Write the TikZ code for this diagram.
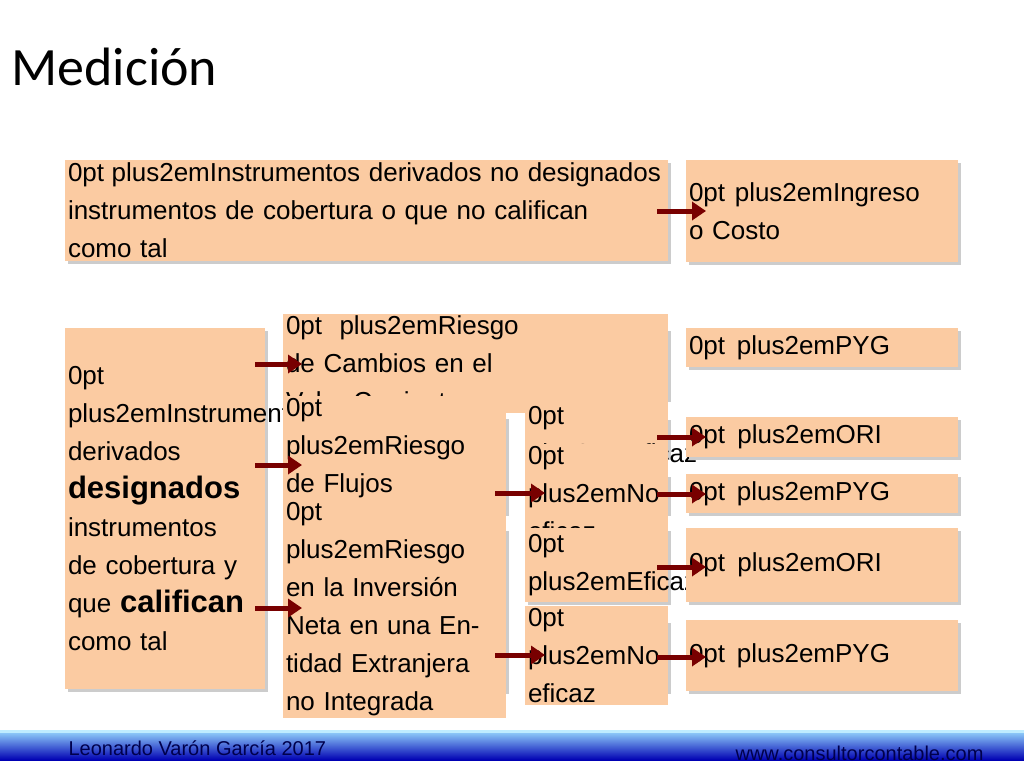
\documentclass[tikz,border=0pt]{standalone}
\usepackage{fontspec}
\setmainfont{Liberation Sans}
\newfontfamily\titlefont{Carlito}
\usetikzlibrary{arrows.meta}
\definecolor{peach}{RGB}{251,203,162}
\definecolor{arr}{RGB}{120,0,0}
\tikzset{
 bx/.style={fill=peach,draw=none,inner sep=2pt,align=center,font=\fontsize{26}{38}\selectfont\hyphenpenalty=10000\relax\exhyphenpenalty=10000\relax},
 ar/.style={draw=arr,line width=5pt,-{Triangle[length=14pt,width=18pt]}},
}
\begin{document}
\begin{tikzpicture}[x=1pt,y=-1pt]
\useasboundingbox (0,0) rectangle (1024,768);
\fill[white] (0,0) rectangle (1024,768);
\node[anchor=west,font=\titlefont\fontsize{54}{60}\selectfont] (title) at (8,67) {Medición};
\newcommand\bxat[6]{\fill[black!20] (#2+3,#3+3) rectangle (#4+3,#5+3);
 \node[bx,minimum width=#4-#2,minimum height=#5-#3,text width=#4-#2-6] (#1) at ({(#2+#4)/2},{(#3+#5)/2}) {#6};}
\bxat{a}{65}{160}{668}{261}{Instrumentos derivados no designados\\instrumentos de cobertura o que no califican\\como tal}
\bxat{b}{686}{160}{958}{262}{Ingreso o Costo}
\bxat{l}{65}{328}{265}{689}{Instrumentos derivados\\{\fontsize{31}{38}\selectfont\bfseries designados}\\instrumentos de cobertura y que {\fontsize{31}{38}\selectfont\bfseries califican}\\como tal}
\bxat{c}{283}{328}{668}{399}{Riesgo de Cambios en el\\Valor Corriente}
\bxat{p1}{686}{328}{958}{367}{PYG}
\bxat{f}{283}{416}{506}{513}{Riesgo de Flujos\\de Efectivo}
\bxat{e1}{525}{417}{668}{457}{Eficaz}
\bxat{o1}{686}{417}{958}{457}{ORI}
\bxat{n1}{525}{474}{668}{513}{No eficaz}
\bxat{p2}{686}{474}{958}{513}{PYG}
\bxat{i}{283}{528}{506}{691}{Riesgo en la Inversión Neta en una Entidad Extranjera no Integrada}
\bxat{e2}{525}{528}{668}{602}{Eficaz}
\bxat{o2}{686}{528}{958}{602}{ORI}
\bxat{n2}{525}{620}{668}{691}{No eficaz}
\bxat{p3}{686}{620}{958}{691}{PYG}
\draw[ar] (657,211) -- (706,211);
\draw[ar] (255,364) -- (302,364);
\draw[ar] (255,465) -- (302,465);
\draw[ar] (255,608) -- (302,608);
\draw[ar] (495,493) -- (545,493);
\draw[ar] (495,655) -- (545,655);
\draw[ar] (657,437) -- (706,437);
\draw[ar] (657,494) -- (706,494);
\draw[ar] (657,567) -- (706,567);
\draw[ar] (657,657) -- (706,657);
\shade[top color=blue!35!cyan!40, bottom color=blue!70!black] (0,730) rectangle (1024,760);
\fill[blue!30!cyan!25] (0,730) rectangle (1024,733);
\node[anchor=west,text=blue!30!black,font=\fontsize{20}{24}\selectfont] (auth) at (65,748) {Leonardo Varón García 2017};
\node[anchor=east,text=blue!30!black,font=\fontsize{20}{24}\selectfont] (web) at (987,753) {www.consultorcontable.com};
\end{tikzpicture}
\end{document}
